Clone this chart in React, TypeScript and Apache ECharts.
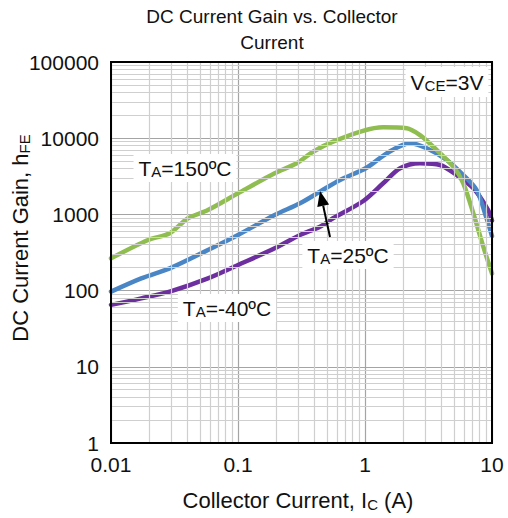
import React, { useEffect, useRef } from "react";
import * as echarts from "echarts";

const FONT = '"Liberation Sans", Arial, Helvetica, sans-serif';

const xTickLabels = ["0.01", "0.1", "1", "10"];
const yTickLabels = ["1", "10", "100", "1000", "10000", "100000"];

// T_A = 150 ºC (green)
const greenX = [0.01, 0.0196, 0.029, 0.0404, 0.058, 0.1, 0.1945, 0.29, 0.39, 0.56, 0.965, 1.39, 2.13, 2.71, 3.45, 4.96, 5.94, 7.13, 8.54, 10];
const greenY = [265, 461, 565, 890, 1140, 1890, 3460, 4690, 6650, 9000, 12500, 13900, 13500, 11000, 7730, 4230, 2560, 1030, 377, 168];

// T_A = 25 ºC (blue)
const blueX = [0.01, 0.0173, 0.029, 0.058, 0.1, 0.1945, 0.308, 0.442, 0.636, 1.03, 1.5, 2.26, 3.06, 4.4, 5.94, 7.57, 9.08, 10];
const blueY = [97, 145, 196, 341, 537, 982, 1400, 1990, 2830, 4100, 6400, 8570, 7370, 5180, 3290, 2090, 880, 520];

// T_A = -40 ºC (purple)
const purpleX = [0.01, 0.0173, 0.029, 0.058, 0.1, 0.1945, 0.308, 0.442, 0.56, 0.97, 1.39, 1.89, 2.71, 3.9, 5.27, 7.13, 9.3, 10];
const purpleY = [65, 79, 97, 145, 217, 359, 537, 690, 889, 1500, 2560, 4030, 4690, 4450, 3290, 2200, 1150, 830];

// minor grid positions (2..9 of each decade)
const minorX = [0.02, 0.03, 0.04, 0.05, 0.06, 0.07, 0.08, 0.09, 0.2, 0.3, 0.4, 0.5, 0.6, 0.7, 0.8, 0.9, 2, 3, 4, 5, 6, 7, 8, 9];
const minorY = [2, 3, 4, 5, 6, 7, 8, 9, 20, 30, 40, 50, 60, 70, 80, 90, 200, 300, 400, 500, 600, 700, 800, 900,
  2000, 3000, 4000, 5000, 6000, 7000, 8000, 9000, 20000, 30000, 40000, 50000, 60000, 70000, 80000, 90000];

const GREEN = "#8fbd4f";
const BLUE = "#4a86c6";
const PURPLE = "#6d2fa0";

const zip = (xs: number[], ys: number[]) => xs.map((x, i) => [x, ys[i]]);

const mainTxt = { fontSize: 21, fontFamily: FONT, fill: "#111", lineHeight: 22 };
const subTxt = { fontSize: 15, fontFamily: FONT, fill: "#111", lineHeight: 12, verticalAlign: "bottom" };

export default function App() {
  const ref = useRef<HTMLDivElement>(null);
  useEffect(() => {
    if (!ref.current) return;
    const chart = echarts.init(ref.current, null, { renderer: "svg" });
    const lineSeries = (name: string, xs: number[], ys: number[], color: string) => ({
      name,
      type: "line",
      data: zip(xs, ys),
      smooth: 0.3,
      showSymbol: false,
      symbol: "none",
      lineStyle: { color, width: 4.5, cap: "round", join: "round" },
      itemStyle: { color },
      z: 3,
      silent: true,
    });
    chart.setOption({
      animation: false,
      backgroundColor: "#ffffff",
      grid: { left: 111, right: 16, top: 62, bottom: 75, show: false },
      xAxis: {
        type: "log",
        logBase: 10,
        min: 0.01,
        max: 10,
        splitNumber: 3,
        axisLine: { show: false },
        axisTick: { show: false },
        splitLine: { show: true, lineStyle: { color: "#a4a4a4", width: 1.2 } },
        axisLabel: {
          fontSize: 21,
          fontFamily: FONT,
          color: "#111",
          margin: 11,
          lineHeight: 20,
          showMinLabel: true,
          showMaxLabel: true,
          formatter: (v: number) => xTickLabels[Math.round(Math.log10(v)) + 2] ?? "",
        },
      },
      yAxis: {
        type: "log",
        logBase: 10,
        min: 1,
        max: 100000,
        splitNumber: 5,
        axisLine: { show: false },
        axisTick: { show: false },
        splitLine: { show: true, lineStyle: { color: "#a4a4a4", width: 1.2 } },
        axisLabel: {
          fontSize: 21,
          fontFamily: FONT,
          color: "#111",
          margin: 12,
          lineHeight: 18,
          showMinLabel: true,
          showMaxLabel: true,
          formatter: (v: number) => yTickLabels[Math.round(Math.log10(v))] ?? "",
        },
      },
      series: [
        {
          type: "line",
          data: [],
          z: 1,
          silent: true,
          markLine: {
            silent: true,
            symbol: ["none", "none"],
            label: { show: false },
            lineStyle: { color: "#cfcfcf", width: 1.2, type: "solid" },
            data: [...minorX.map((v) => ({ xAxis: v })), ...minorY.map((v) => ({ yAxis: v }))],
          },
        },
        lineSeries("T_A=-40ºC", purpleX, purpleY, PURPLE),
        lineSeries("T_A=25ºC", blueX, blueY, BLUE),
        lineSeries("T_A=150ºC", greenX, greenY, GREEN),
      ],
      graphic: [
        {
          type: "rect",
          z: 100,
          shape: { x: 111, y: 62, width: 381, height: 381 },
          style: { fill: "none", stroke: "#000", lineWidth: 2 },
        },
        {
          type: "text",
          x: 272,
          y: 29,
          style: {
            text: "DC Current Gain vs. Collector\nCurrent",
            fontSize: 19,
            fontFamily: FONT,
            fill: "#111",
            align: "center",
            verticalAlign: "middle",
            lineHeight: 26,
          },
        },
        {
          type: "text",
          x: 298,
          y: 500,
          style: {
            text: "{a|Collector Current, I}{s|C}{a| (A)}",
            align: "center",
            verticalAlign: "middle",
            rich: {
              a: { fontSize: 22, fontFamily: FONT, fill: "#111", lineHeight: 24 },
              s: { fontSize: 15, fontFamily: FONT, fill: "#111", lineHeight: 13, verticalAlign: "bottom" },
            },
          },
        },
        {
          type: "text",
          x: 20,
          y: 238,
          rotation: Math.PI / 2,
          style: {
            text: "{a|DC Current Gain, h}{s|FE}",
            align: "center",
            verticalAlign: "middle",
            rich: {
              a: { fontSize: 22, fontFamily: FONT, fill: "#111", lineHeight: 24 },
              s: { fontSize: 15, fontFamily: FONT, fill: "#111", lineHeight: 13, verticalAlign: "bottom" },
            },
          },
        },
        {
          type: "text",
          x: 447,
          y: 82,
          z: 50,
          style: {
            text: "{a|V}{s|CE}{a|=3V}",
            align: "center",
            verticalAlign: "middle",
            backgroundColor: "#fff",
            padding: [4, 5, 4, 5],
            rich: { a: mainTxt, s: subTxt },
          },
        },
        {
          type: "text",
          x: 185,
          y: 168,
          z: 50,
          style: {
            text: "{a|T}{s|A}{a|=150ºC}",
            align: "center",
            verticalAlign: "middle",
            backgroundColor: "#fff",
            padding: [3, 5, 3, 5],
            rich: { a: mainTxt, s: subTxt },
          },
        },
        {
          type: "text",
          x: 348,
          y: 255,
          z: 50,
          style: {
            text: "{a|T}{s|A}{a|=25ºC}",
            align: "center",
            verticalAlign: "middle",
            backgroundColor: "#fff",
            padding: [3, 5, 3, 5],
            rich: { a: mainTxt, s: subTxt },
          },
        },
        {
          type: "text",
          x: 227,
          y: 308,
          z: 50,
          style: {
            text: "{a|T}{s|A}{a|=-40ºC}",
            align: "center",
            verticalAlign: "middle",
            backgroundColor: "#fff",
            padding: [3, 5, 3, 5],
            rich: { a: mainTxt, s: subTxt },
          },
        },
        {
          type: "line",
          z: 60,
          shape: { x1: 330, y1: 237, x2: 323.2, y2: 205.7 },
          style: { stroke: "#000", lineWidth: 2 },
        },
        {
          type: "polygon",
          z: 60,
          shape: { points: [[320, 191], [329.1, 204.4], [317.3, 207]] },
          style: { fill: "#000" },
        },
      ],
    });
    return () => chart.dispose();
  }, []);
  return (
    <div
      ref={ref}
      style={{ position: "fixed", left: 0, top: 0, width: 508, height: 518, background: "#fff" }}
    />
  );
}
